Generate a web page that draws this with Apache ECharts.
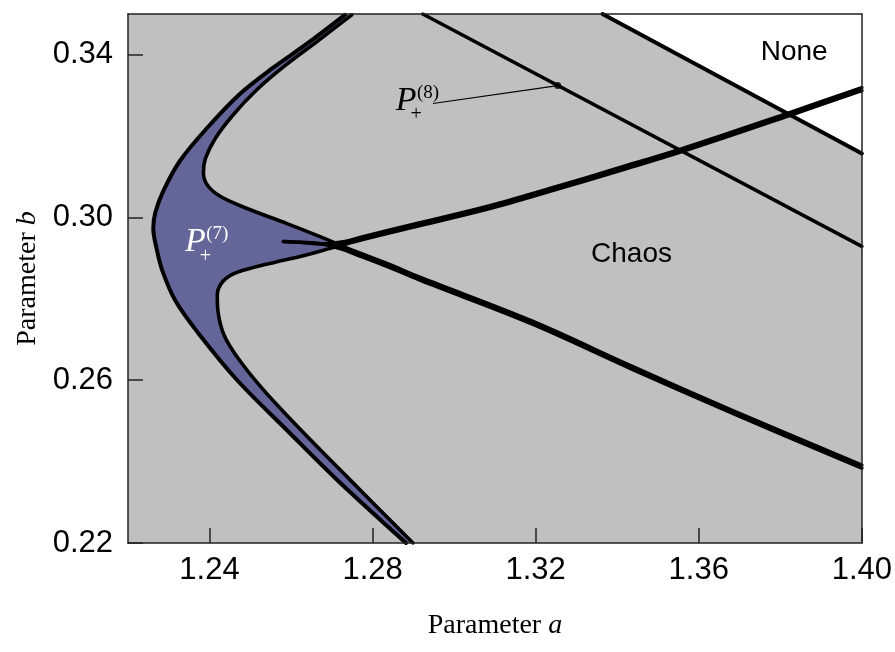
<!DOCTYPE html>
<html>
<head>
<meta charset="utf-8">
<script src="https://cdn.jsdelivr.net/npm/echarts@6.0.0/dist/echarts.min.js"></script>
<style>
  html, body { margin: 0; padding: 0; background: #ffffff; }
  #chart { width: 895px; height: 652px; }
</style>
</head>
<body>
<div id="chart"></div>
<script>
// Axis ranges and tick values
const aRange = [1.22, 1.40];
const bRange = [0.22, 0.35];
const xTicks = [1.24, 1.28, 1.32, 1.36, 1.40];
const yTicks = [0.22, 0.26, 0.30, 0.34];

// Outer boundary of the P+(7) stability band, top to bottom
const outerBoundary = [
  [1.2732, 0.3498], [1.2639, 0.3427], [1.2556, 0.3368], [1.2475, 0.3304],
  [1.2395, 0.3221], [1.2328, 0.3140], [1.2287, 0.3066], [1.2267, 0.3012],
  [1.2262, 0.2973], [1.2270, 0.2924], [1.2284, 0.2870], [1.2316, 0.2796],
  [1.2373, 0.2715], [1.2468, 0.2600], [1.2590, 0.2477], [1.2713, 0.2355],
  [1.2882, 0.2200]
];

// Upper inner boundary: from the top edge, round the corner, down to the right edge
const innerUpper = [
  [1.2749, 0.3498], [1.2666, 0.3434], [1.2585, 0.3373], [1.2514, 0.3312],
  [1.2456, 0.3250], [1.2414, 0.3194], [1.2390, 0.3145], [1.2385, 0.3110],
  [1.2395, 0.3079], [1.2426, 0.3052], [1.2492, 0.3022], [1.2590, 0.2985],
  [1.2671, 0.2953], [1.2752, 0.2919], [1.2835, 0.2887], [1.2916, 0.2853],
  [1.3192, 0.2745], [1.3437, 0.2634], [1.3682, 0.2526], [1.4000, 0.2391]
];

// Lower inner boundary: from the bottom edge, round the corner, up to the right edge
const innerLower = [
  [1.2899, 0.2200], [1.2740, 0.2360], [1.2620, 0.2482], [1.2529, 0.2580],
  [1.2470, 0.2654], [1.2436, 0.2710], [1.2421, 0.2767], [1.2419, 0.2809],
  [1.2429, 0.2838], [1.2456, 0.2860], [1.2500, 0.2875], [1.2561, 0.2890],
  [1.2622, 0.2904], [1.2696, 0.2924], [1.2769, 0.2944], [1.2916, 0.2980],
  [1.3080, 0.3020], [1.3241, 0.3066], [1.3405, 0.3115], [1.3559, 0.3162],
  [1.3821, 0.3250], [1.4000, 0.3312]
];

// Spur starting inside the band and splitting into the two thin arms
const spurUpper = [
  [1.2581, 0.2941], [1.2622, 0.2939], [1.2676, 0.2935], [1.2732, 0.2941],
  [1.2769, 0.2951], [1.2916, 0.2987], [1.3080, 0.3027], [1.3241, 0.3073],
  [1.3405, 0.3122], [1.3559, 0.3169], [1.3821, 0.3257], [1.4000, 0.3319]
];
const spurLower = [
  [1.2581, 0.2941], [1.2622, 0.2939], [1.2676, 0.2935], [1.2732, 0.2920],
  [1.2752, 0.2912], [1.2835, 0.2880], [1.2916, 0.2846], [1.3192, 0.2738],
  [1.3437, 0.2627], [1.3682, 0.2519], [1.4000, 0.2384]
];

// Straight boundaries: P+(8) line and the edge of the "None" region
const p8Boundary = [[1.2923, 0.3500], [1.4000, 0.2929]];
const noneBoundary = [[1.3364, 0.3500], [1.4000, 0.3157]];
const noneRegion = [[1.3364, 0.3500], [1.4000, 0.3500], [1.4000, 0.3157]];

// P+(8) marker and its leader line
const p8Point = [1.3254, 0.3324];
const p8Leader = [[1.3254, 0.3324], [1.2948, 0.3280]];

// Annotations
const mathSups = ['(7)', '(8)'];
const mathAnchors = [[1.2365, 0.2939], [1.2882, 0.3287]];
const regionNames = ['Chaos', 'None'];
const regionAnchors = [[1.3435, 0.2909], [1.3834, 0.3405]];

const BAND_BLUE = '#646699';
const CHAOS_GRAY = '#c0c0c0';
const INK = '#000000';
const SANS = '"Liberation Sans", Arial, sans-serif';
const SERIF = '"Liberation Serif", "Times New Roman", serif';

// Closed outline of the blue band: outer edge, lower edge, back along the upper arm,
// out along the lower arm, then back up the upper edge.
const bandOutline = []
  .concat(outerBoundary)
  .concat(innerLower)
  .concat(spurUpper.slice().reverse())
  .concat(spurLower)
  .concat(innerUpper.slice().reverse());

function polygonSeries(name, points, fill, z) {
  return {
    name: name,
    type: 'custom',
    coordinateSystem: 'cartesian2d',
    z: z,
    silent: true,
    data: [points[0]],
    renderItem: function (params, api) {
      return {
        type: 'polygon',
        shape: { points: points.map(function (p) { return api.coord(p); }) },
        style: { fill: fill, stroke: null }
      };
    }
  };
}

function curveSeries(name, points, width) {
  return {
    name: name,
    type: 'line',
    data: points,
    showSymbol: false,
    symbol: 'none',
    smooth: 0.35,
    z: 4,
    silent: true,
    lineStyle: { color: INK, width: width, cap: 'round', join: 'round' }
  };
}

const chart = echarts.init(document.getElementById('chart'), null, { renderer: 'canvas' });

const tickFmt = function (v) { return Number(v).toFixed(2); };

chart.setOption({
  animation: false,
  backgroundColor: '#ffffff',
  grid: {
    left: 128, right: 32, top: 14, bottom: 109,
    show: true, backgroundColor: CHAOS_GRAY, borderWidth: 0
  },
  xAxis: [
    {
      type: 'value', min: aRange[0], max: aRange[1], position: 'bottom', z: 10,
      axisLine: { show: true, onZero: false, lineStyle: { color: '#222', width: 1.5 } },
      axisTick: { show: true, inside: true, length: 15, customValues: xTicks,
                  lineStyle: { color: '#222', width: 1.5 } },
      axisLabel: { customValues: xTicks, formatter: tickFmt, margin: 12,
                   fontSize: 31, fontFamily: SANS, color: INK },
      splitLine: { show: false },
      name: 'Parameter {i|a}', nameLocation: 'middle', nameGap: 69,
      nameTextStyle: { fontSize: 28, fontFamily: SERIF, color: INK,
                       rich: { i: { fontSize: 28, fontFamily: SERIF, fontStyle: 'italic', color: INK } } }
    },
    {
      type: 'value', min: aRange[0], max: aRange[1], position: 'top', z: 10,
      axisLine: { show: true, onZero: false, lineStyle: { color: '#222', width: 1.5 } },
      axisTick: { show: false }, axisLabel: { show: false }, splitLine: { show: false }
    }
  ],
  yAxis: [
    {
      type: 'value', min: bRange[0], max: bRange[1], position: 'left', z: 10,
      axisLine: { show: true, onZero: false, lineStyle: { color: '#222', width: 1.5 } },
      axisTick: { show: true, inside: true, length: 15, customValues: yTicks,
                  lineStyle: { color: '#222', width: 1.5 } },
      axisLabel: { customValues: yTicks, formatter: tickFmt, margin: 15,
                   fontSize: 31, fontFamily: SANS, color: INK },
      splitLine: { show: false },
      name: 'Parameter {i|b}', nameLocation: 'middle', nameGap: 86,
      nameTextStyle: { fontSize: 28, fontFamily: SERIF, color: INK,
                       rich: { i: { fontSize: 28, fontFamily: SERIF, fontStyle: 'italic', color: INK } } }
    },
    {
      type: 'value', min: bRange[0], max: bRange[1], position: 'right', z: 10,
      axisLine: { show: true, onZero: false, lineStyle: { color: '#222', width: 1.5 } },
      axisTick: { show: false }, axisLabel: { show: false }, splitLine: { show: false }
    }
  ],
  series: [
    polygonSeries('None region', noneRegion, '#ffffff', 1),
    polygonSeries('P+(7) band', bandOutline, BAND_BLUE, 2),
    curveSeries('outer', outerBoundary, 4),
    curveSeries('upper', innerUpper, 3.6),
    curveSeries('lower', innerLower, 3.6),
    curveSeries('spur upper', spurUpper, 3.6),
    curveSeries('spur lower', spurLower, 3.6),
    curveSeries('P8 boundary', p8Boundary, 3.5),
    curveSeries('None boundary', noneBoundary, 4),
    {
      name: 'leader', type: 'line', data: p8Leader, symbol: 'none', z: 5, silent: true,
      lineStyle: { color: INK, width: 1.2 }
    },
    {
      name: 'P8', type: 'scatter', data: [p8Point], symbol: 'circle', symbolSize: 7, z: 6,
      silent: true, itemStyle: { color: INK }
    },
    {
      name: 'math labels', type: 'custom', coordinateSystem: 'cartesian2d', z: 7, silent: true,
      data: mathAnchors,
      renderItem: function (params, api) {
        const i = params.dataIndex;
        const c = api.coord(mathAnchors[i]);
        const col = i === 0 ? '#ffffff' : INK;
        return {
          type: 'group',
          children: [
            { type: 'text', x: c[0], y: c[1],
              style: { text: 'P', fontSize: 34, fontFamily: SERIF, fontStyle: 'italic',
                       fill: col, align: 'center', verticalAlign: 'middle' } },
            { type: 'text', x: c[0] + 11, y: c[1] - 8,
              style: { text: mathSups[i], fontSize: 19, fontFamily: SERIF,
                       fill: col, align: 'left', verticalAlign: 'middle' } },
            { type: 'text', x: c[0] + 10, y: c[1] + 14,
              style: { text: '+', fontSize: 20, fontFamily: SERIF,
                       fill: col, align: 'center', verticalAlign: 'middle' } }
          ]
        };
      }
    },
    {
      name: 'region labels', type: 'custom', coordinateSystem: 'cartesian2d', z: 7, silent: true,
      data: regionAnchors,
      renderItem: function (params, api) {
        const c = api.coord(regionAnchors[params.dataIndex]);
        return {
          type: 'text', x: c[0], y: c[1],
          style: { text: regionNames[params.dataIndex], fontSize: 28, fontFamily: SANS,
                   fill: INK, align: 'center', verticalAlign: 'middle' }
        };
      }
    }
  ]
});
</script>
</body>
</html>
